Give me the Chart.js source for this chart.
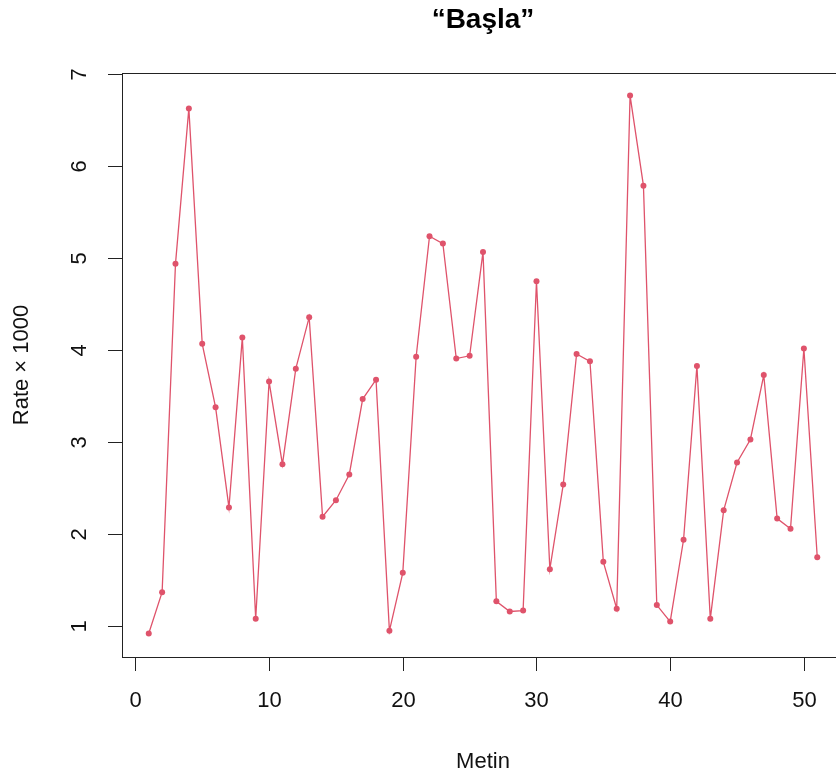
<!DOCTYPE html>
<html>
<head>
<meta charset="utf-8">
<title>Başla</title>
<script src="https://cdn.jsdelivr.net/npm/chart.js@4.4.1/dist/chart.umd.min.js"></script>
<style>
  html, body { margin: 0; padding: 0; background: #fff; overflow: hidden; }
  #wrap { width: 860px; height: 778px; }
</style>
</head>
<body>
<div id="wrap"><canvas id="myChart" width="860" height="778"></canvas></div>
<script>
'use strict';
// data
let metin = [];
for (let i = 1; i <= 51; i++) {
  metin.push(i);
}
let rate = [
  0.92, 1.37, 4.94, 6.63, 4.07, 3.38, 2.29, 4.14, 1.08, 3.66,
  2.76, 3.80, 4.36, 2.19, 2.37, 2.65, 3.47, 3.68, 0.95, 1.58,
  3.93, 5.24, 5.16, 3.91, 3.94, 5.07, 1.27, 1.16, 1.17, 4.75,
  1.62, 2.54, 3.96, 3.88, 1.70, 1.19, 6.77, 5.79, 1.23, 1.05,
  1.94, 3.83, 1.08, 2.26, 2.78, 3.03, 3.73, 2.17, 2.06, 4.02,
  1.75
];
let xTicks = [0, 10, 20, 30, 40, 50];
let yTicks = [1, 2, 3, 4, 5, 6, 7];

let title = '\u201cBaşla\u201d';
let xTitle = 'Metin';
let yTitle = 'Rate \u00d7 1000';

let lineColor = '#DF536B';
let fontName = '"Liberation Sans", Arial, sans-serif';

let points = [];
for (let i = 0; i < metin.length; i++) {
  points.push({ x: metin[i], y: rate[i] });
}

// R style box, ticks and labels
let baseAxes = {
  id: 'baseAxes',
  afterDraw(chart) {
    let ctx = chart.ctx;
    let area = chart.chartArea;
    let xs = chart.scales.x;
    let ys = chart.scales.y;
    ctx.save();
    ctx.strokeStyle = '#222';
    ctx.lineWidth = 1;
    ctx.strokeRect(area.left + 0.5, area.top + 0.5, area.right - area.left, area.bottom - area.top);

    ctx.fillStyle = '#111';
    ctx.font = '22px ' + fontName;
    ctx.textAlign = 'center';
    ctx.textBaseline = 'middle';
    for (let i = 0; i < xTicks.length; i++) {
      let px = Math.round(xs.getPixelForValue(xTicks[i])) + 0.5;
      ctx.beginPath();
      ctx.moveTo(px, area.bottom);
      ctx.lineTo(px, area.bottom + 14);
      ctx.stroke();
      ctx.fillText(String(xTicks[i]), px, area.bottom + 44);
    }
    for (let i = 0; i < yTicks.length; i++) {
      let py = Math.round(ys.getPixelForValue(yTicks[i])) + 0.5;
      ctx.beginPath();
      ctx.moveTo(area.left, py);
      ctx.lineTo(area.left - 14, py);
      ctx.stroke();
      ctx.save();
      ctx.translate(area.left - 42, py);
      ctx.rotate(-Math.PI / 2);
      ctx.fillText(String(yTicks[i]), 0, 0);
      ctx.restore();
    }

    let midX = (area.left + area.right) / 2;
    let midY = (area.top + area.bottom) / 2;
    ctx.fillText(xTitle, midX, area.bottom + 105);
    ctx.save();
    ctx.translate(22, midY);
    ctx.rotate(-Math.PI / 2);
    ctx.fillText(yTitle, 0, 0);
    ctx.restore();

    ctx.font = 'bold 28px ' + fontName;
    ctx.fillStyle = '#000';
    ctx.fillText(title, midX, 20);
    ctx.restore();
  }
};

let ctx = document.getElementById('myChart').getContext('2d');
let myChart = new Chart(ctx, {
  type: 'line',
  data: {
    datasets: [{
      label: yTitle,
      data: points,
      borderColor: lineColor,
      backgroundColor: lineColor,
      borderWidth: 1.3,
      pointRadius: 3,
      pointBorderWidth: 0,
      pointBackgroundColor: lineColor,
      tension: 0,
      fill: false
    }]
  },
  options: {
    responsive: false,
    animation: false,
    layout: {
      padding: { left: 122, top: 73, right: 16, bottom: 121 }
    },
    plugins: {
      legend: { display: false },
      tooltip: { enabled: false }
    },
    scales: {
      x: { type: 'linear', display: false, min: -1, max: 53 },
      y: { type: 'linear', display: false, min: 0.665, max: 7.015 }
    }
  },
  plugins: [baseAxes]
});
</script>
</body>
</html>
